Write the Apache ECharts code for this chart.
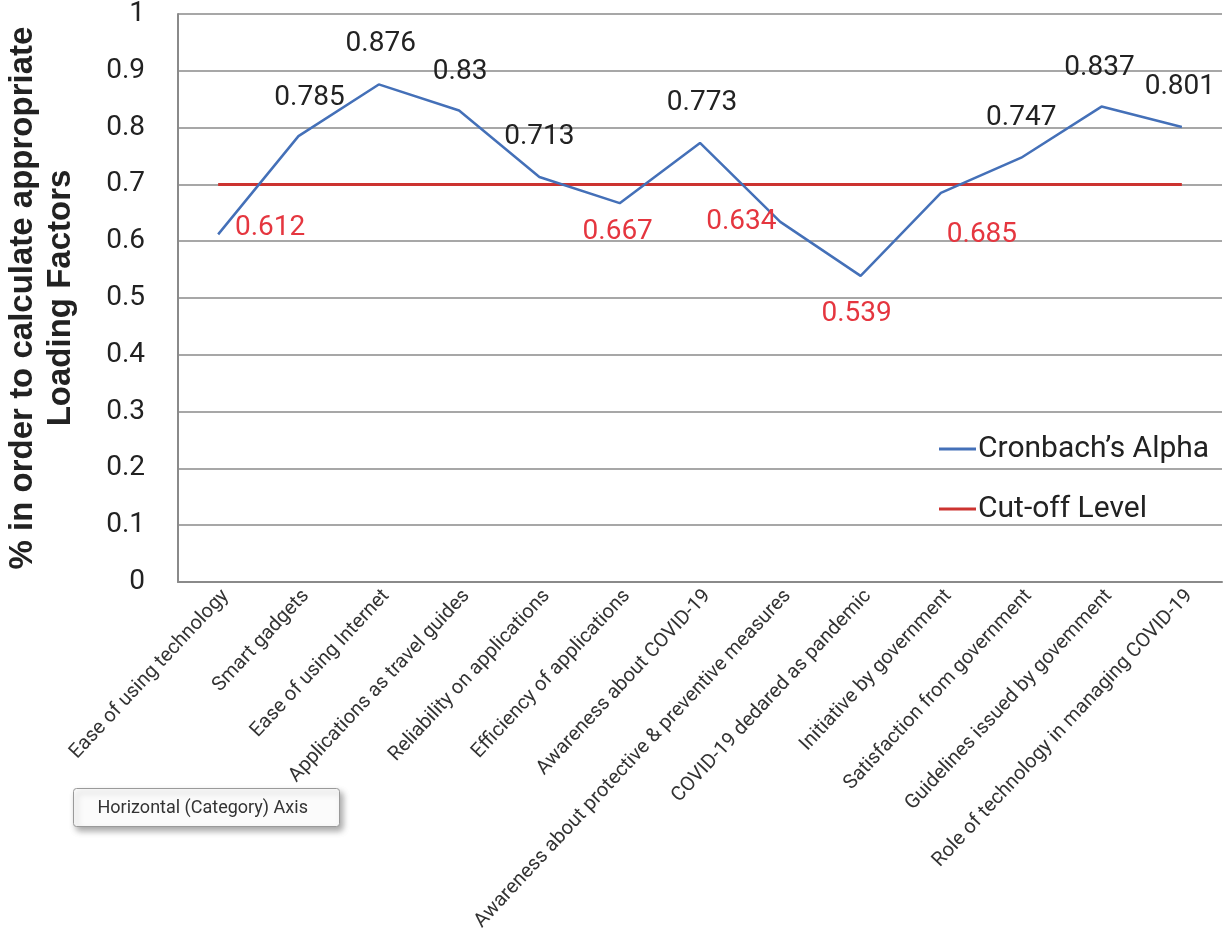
<!DOCTYPE html>
<html>
<head>
<meta charset="utf-8">
<title>Cronbach's Alpha by factor</title>
<script src="https://cdn.jsdelivr.net/npm/echarts@6/dist/echarts.min.js"></script>
<style>
  html, body { margin: 0; padding: 0; background: #ffffff; }
  #chart { width: 1225px; height: 946px; }
</style>
</head>
<body>
<div id="chart"></div>
<script>
// Factors on the horizontal axis
const categories = [
  'Ease of using technology',
  'Smart gadgets',
  'Ease of using Internet',
  'Applications as travel guides',
  'Reliability on applications',
  'Efficiency of applications',
  'Awareness about COVID-19',
  'Awareness about protective & preventive measures',
  'COVID-19 dedared as pandemic',
  'Initiative by government',
  'Satisfaction from government',
  'Guidelines issued by govemment',
  'Role of technology in managing COVID-19'
];

// Cronbach's alpha per factor
const alphaValues = [0.612, 0.785, 0.876, 0.83, 0.713, 0.667, 0.773, 0.634, 0.539, 0.685, 0.747, 0.837, 0.801];

// Cut-off level
const cutoffValue = 0.7;
const cutoffValues = categories.map(() => cutoffValue);

// Y-axis tick values
const yTicks = [0, 0.1, 0.2, 0.3, 0.4, 0.5, 0.6, 0.7, 0.8, 0.9, 1];

// Label offsets (pixels from each point), kept apart from the data
const labelOffsets = [
  [52, -6], [11, -38], [2, -40], [1, -39], [0, -40], [-2, 29],
  [2, -40], [-39, 0], [-4, 38], [41, 42], [0, -40], [-2, -39], [-2, -40]
];

const BLUE = '#4470b8';
const RED = '#cc3330';
const LABEL_RED = '#e5363f';
const TEXT = '#222222';
const FONT = 'Roboto, "Liberation Sans", sans-serif';
const TITLE_FONT = '"Liberation Sans", Roboto, sans-serif';

const alphaData = alphaValues.map((v, i) => ({
  value: v,
  label: {
    show: true,
    position: 'inside',
    offset: labelOffsets[i],
    color: v < cutoffValue ? LABEL_RED : TEXT,
    fontSize: 28,
    fontFamily: FONT
  }
}));

const chart = echarts.init(document.getElementById('chart'), null, { renderer: 'canvas' });

chart.setOption({
  animation: false,
  backgroundColor: '#ffffff',
  grid: { left: 178, right: 3, top: 14, bottom: 364, outerBoundsMode: 'none', containLabel: false },
  legend: {
    orient: 'vertical',
    left: 934,
    top: 426,
    itemGap: 24,
    itemWidth: 37,
    itemHeight: 3,
    icon: 'rect',
    textStyle: { color: TEXT, fontSize: 30, lineHeight: 36, fontFamily: FONT, padding: [0, 0, 0, -3] },
    data: [
      { name: 'Cronbach\u2019s Alpha', itemStyle: { color: BLUE } },
      { name: 'Cut-off Level', itemStyle: { color: RED } }
    ]
  },
  xAxis: {
    type: 'category',
    data: categories,
    boundaryGap: true,
    axisLine: { show: true, lineStyle: { color: '#8a8a8a', width: 2 } },
    axisTick: { show: false },
    axisLabel: {
      interval: 0,
      rotate: 47,
      margin: 4,
      verticalAlign: 'top',
      color: '#333333',
      fontSize: 20,
      fontFamily: FONT
    },
    splitLine: { show: false }
  },
  yAxis: {
    type: 'value',
    min: yTicks[0],
    max: yTicks[yTicks.length - 1],
    interval: 0.1,
    name: '% in order to calculate appropriate\nLoading Factors',
    nameLocation: 'middle',
    nameRotate: 90,
    nameGap: 98,
    nameTextStyle: {
      color: TEXT,
      fontSize: 33,
      fontWeight: 'bold',
      fontFamily: TITLE_FONT,
      lineHeight: 38
    },
    axisLine: { show: true, lineStyle: { color: '#8a8a8a', width: 2 } },
    axisTick: { show: false },
    axisLabel: {
      color: TEXT,
      fontSize: 28,
      fontFamily: FONT,
      margin: 33,
      formatter: (v) => String(Math.round(v * 10) / 10)
    },
    splitLine: { show: true, lineStyle: { color: '#8a8a8a', width: 1.5 } }
  },
  graphic: [
    {
      type: 'group',
      left: 73,
      top: 788,
      children: [
        {
          type: 'rect',
          shape: { x: 0, y: 0, width: 266, height: 38, r: 3 },
          style: {
            fill: '#fbfbfb',
            stroke: '#9a9a9a',
            lineWidth: 1,
            shadowBlur: 6,
            shadowOffsetX: 3,
            shadowOffsetY: 4,
            shadowColor: 'rgba(0,0,0,0.35)'
          }
        },
        {
          type: 'text',
          x: 24,
          y: 20,
          style: {
            text: 'Horizontal (Category) Axis',
            fill: '#333333',
            fontSize: 18,
            fontFamily: FONT,
            verticalAlign: 'middle'
          }
        }
      ]
    }
  ],
  series: [
    {
      name: 'Cronbach\u2019s Alpha',
      type: 'line',
      data: alphaData,
      showSymbol: true,
      symbol: 'circle',
      symbolSize: 0.1,
      lineStyle: { color: BLUE, width: 2.5 },
      itemStyle: { color: BLUE },
      z: 3
    },
    {
      name: 'Cut-off Level',
      type: 'line',
      data: cutoffValues,
      showSymbol: false,
      lineStyle: { color: RED, width: 3 },
      itemStyle: { color: RED },
      z: 2
    }
  ]
});
</script>
</body>
</html>
